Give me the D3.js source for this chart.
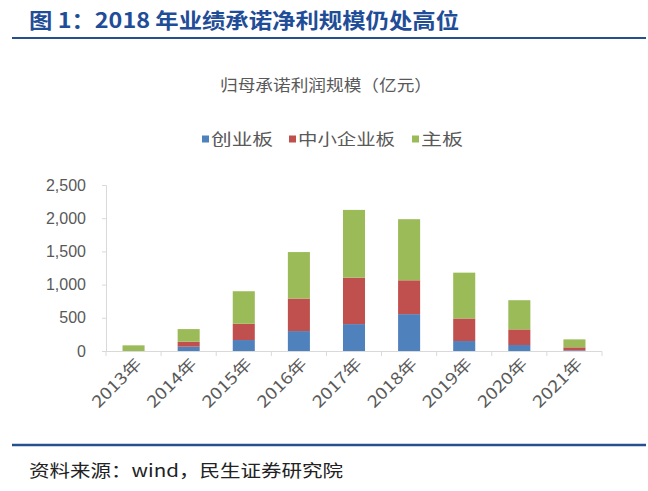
<!DOCTYPE html>
<html>
<head>
<meta charset="utf-8">
<script src="https://cdn.jsdelivr.net/npm/d3@7"></script>
<style>
  body { margin: 0; background: #fff; }
  svg { display: block; font-family: "Noto Sans CJK SC", "Liberation Sans", sans-serif; }
</style>
</head>
<body>
<svg id="chart" width="648" height="491"></svg>
<script>
// values (亿元)
const years = ['2013年', '2014年', '2015年', '2016年', '2017年', '2018年', '2019年', '2020年', '2021年']
const chuangye = [0, 65, 165, 300, 405, 555, 150, 90, 10]
const zhongxiao = [0, 75, 245, 490, 700, 510, 340, 235, 45]
const zhuban = [85, 190, 490, 700, 1020, 920, 690, 440, 120]
const seriesNames = ['创业板', '中小企业板', '主板']
const yTicks = [0, 500, 1000, 1500, 2000, 2500]

const colors = ['#4f81bd', '#c0504d', '#9bbb59']
const navy = '#254f8f'

const svg = d3.select('#chart')

// header
svg.append('text')
    .attr('x', 29).attr('y', 28)
    .attr('fill', '#1f4d97')
    .attr('font-size', 21).attr('font-weight', 'bold')
    .attr('textLength', 430).attr('lengthAdjust', 'spacingAndGlyphs')
    .text('图 1：2018 年业绩承诺净利规模仍处高位')

svg.append('line')
    .attr('x1', 12).attr('x2', 646).attr('y1', 38).attr('y2', 38)
    .attr('stroke', navy).attr('stroke-width', 2)

// chart title
svg.append('text')
    .attr('x', 326).attr('y', 85).attr('dy', '0.35em')
    .attr('text-anchor', 'middle')
    .attr('fill', '#595959').attr('font-size', 16)
    .attr('textLength', 212).attr('lengthAdjust', 'spacingAndGlyphs')
    .text('归母承诺利润规模（亿元）')

// legend
let legendX = [202, 289, 412]
let legendW = [62, 97, 42]
seriesNames.forEach((name, i) => {
    svg.append('rect')
        .attr('x', legendX[i]).attr('y', 135.5)
        .attr('width', 7).attr('height', 7)
        .attr('fill', colors[i])
    svg.append('text')
        .attr('x', legendX[i] + 9).attr('y', 139).attr('dy', '0.35em')
        .attr('fill', '#595959').attr('font-size', 16)
        .attr('textLength', legendW[i]).attr('lengthAdjust', 'spacingAndGlyphs')
        .text(name)
})

// scales
let x = d3.scaleBand()
    .domain(years)
    .range([106, 602])
    .paddingInner(0.6)
    .paddingOuter(0.3)

let y = d3.scaleLinear()
    .domain([0, 2500])
    .range([351, 185])

let table = years.map((yr, i) => ({ year: yr, a: chuangye[i], b: zhongxiao[i], c: zhuban[i] }))
let stacked = d3.stack().keys(['a', 'b', 'c'])(table)

// axes
let yAxis = svg.append('g')
    .attr('transform', 'translate(106,0)')
    .call(d3.axisLeft(y).tickValues(yTicks).tickSize(4).tickPadding(16)
        .tickFormat(d3.format(',')))
yAxis.select('.domain').attr('stroke', '#d9d9d9')
yAxis.selectAll('.tick line').attr('stroke', '#d9d9d9')
yAxis.selectAll('.tick text')
    .attr('fill', '#595959').attr('font-size', 16)
    .attr('font-family', '"Liberation Sans", sans-serif')

let step = x.step()
let bounds = d3.range(years.length + 1).map(i => 106 + i * step)

svg.append('line')
    .attr('x1', 106).attr('x2', 602).attr('y1', 351.5).attr('y2', 351.5)
    .attr('stroke', '#d9d9d9')
svg.selectAll('line.xtick').data(bounds).enter()
    .append('line')
    .attr('class', 'xtick')
    .attr('x1', d => d).attr('x2', d => d)
    .attr('y1', 351.5).attr('y2', 356)
    .attr('stroke', '#d9d9d9')

// bars
svg.selectAll('g.layer').data(stacked).enter()
    .append('g')
    .attr('class', 'layer')
    .attr('fill', (d, i) => colors[i])
    .selectAll('rect').data(d => d).enter()
    .append('rect')
    .attr('x', d => x(d.data.year))
    .attr('y', d => y(d[1]))
    .attr('width', x.bandwidth())
    .attr('height', d => y(d[0]) - y(d[1]))

// x labels
svg.selectAll('text.xlab').data(years).enter()
    .append('text')
    .attr('class', 'xlab')
    .attr('transform', d => 'translate(' + (x(d) + x.bandwidth() / 2 + 5) + ',361) rotate(-45)')
    .attr('text-anchor', 'end')
    .attr('dy', '0.35em')
    .attr('fill', '#595959').attr('font-size', 16)
    .attr('textLength', 62).attr('lengthAdjust', 'spacingAndGlyphs')
    .text(d => d)

// footer
svg.append('line')
    .attr('x1', 12).attr('x2', 646).attr('y1', 445).attr('y2', 445)
    .attr('stroke', navy).attr('stroke-width', 2.5)

svg.append('text')
    .attr('x', 29).attr('y', 471).attr('dy', '0.35em')
    .attr('fill', '#222').attr('font-size', 17)
    .attr('textLength', 314).attr('lengthAdjust', 'spacingAndGlyphs')
    .text('资料来源：wind，民生证券研究院')
</script>
</body>
</html>
